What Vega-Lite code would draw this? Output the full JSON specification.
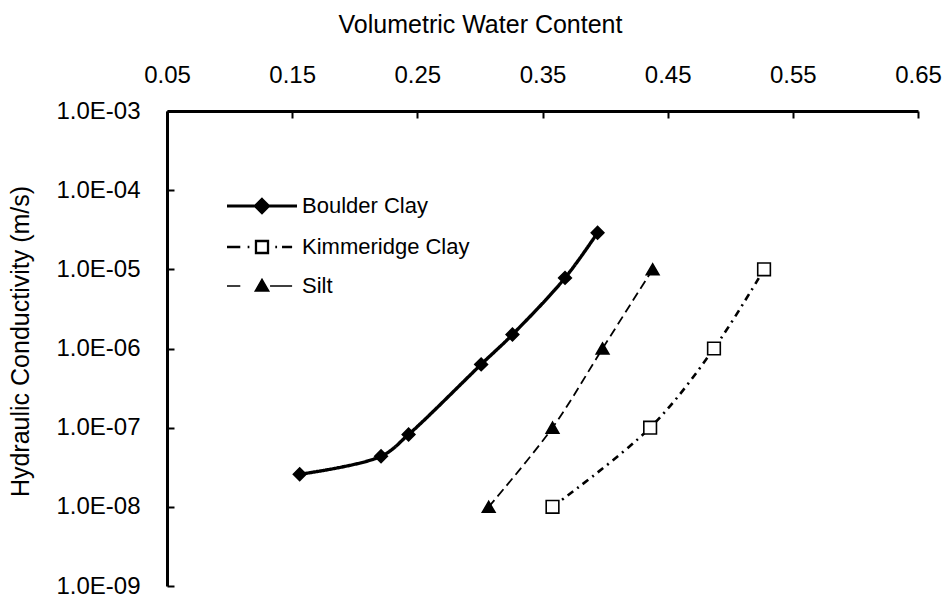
{
  "$schema": "https://vega.github.io/schema/vega-lite/v6.json",
  "width": 751,
  "height": 475,
  "autosize": {"type": "none"},
  "padding": {"left": 167, "top": 111, "right": 25, "bottom": 15},
  "background": "white",
  "config": {
    "view": {"stroke": null},
    "font": "Liberation Sans",
    "axis": {
      "labelFont": "Liberation Sans",
      "labelFontSize": 24,
      "labelColor": "black",
      "labelFlush": false,
      "labelOverlap": false,
      "titleFont": "Liberation Sans",
      "titleFontSize": 25,
      "titleFontWeight": "normal",
      "titleColor": "black",
      "domainColor": "black",
      "domainWidth": 3,
      "tickColor": "black",
      "tickWidth": 2,
      "tickSize": -7,
      "grid": false
    }
  },
  "data": {
    "values": [
      {"series": "Boulder Clay", "vwc": 0.156, "k": 2.58e-8},
      {"series": "Boulder Clay", "vwc": 0.221, "k": 4.35e-8},
      {"series": "Boulder Clay", "vwc": 0.243, "k": 8.2e-8},
      {"series": "Boulder Clay", "vwc": 0.301, "k": 6.3e-7},
      {"series": "Boulder Clay", "vwc": 0.326, "k": 1.5e-6},
      {"series": "Boulder Clay", "vwc": 0.368, "k": 7.8e-6},
      {"series": "Boulder Clay", "vwc": 0.394, "k": 2.9e-5},
      {"series": "Kimmeridge Clay", "vwc": 0.358, "k": 1e-8},
      {"series": "Kimmeridge Clay", "vwc": 0.436, "k": 1e-7},
      {"series": "Kimmeridge Clay", "vwc": 0.487, "k": 1e-6},
      {"series": "Kimmeridge Clay", "vwc": 0.527, "k": 1e-5},
      {"series": "Silt", "vwc": 0.307, "k": 1e-8},
      {"series": "Silt", "vwc": 0.358, "k": 1e-7},
      {"series": "Silt", "vwc": 0.398, "k": 1e-6},
      {"series": "Silt", "vwc": 0.438, "k": 1e-5}
    ]
  },
  "encoding": {
    "x": {
      "field": "vwc",
      "type": "quantitative",
      "scale": {"domain": [0.05, 0.65], "nice": false, "zero": false},
      "axis": {
        "orient": "top",
        "title": "Volumetric Water Content",
        "values": [0.05, 0.15, 0.25, 0.35, 0.45, 0.55, 0.65],
        "format": ".2f",
        "labelPadding": 36,
        "labelBaseline": "alphabetic",
        "titleX": 313,
        "titleY": -79,
        "titleAlign": "center",
        "titleBaseline": "alphabetic"
      }
    },
    "y": {
      "field": "k",
      "type": "quantitative",
      "scale": {"type": "log", "domain": [1e-9, 1e-3], "nice": false},
      "axis": {
        "title": "Hydraulic Conductivity (m/s)",
        "values": [1e-9, 1e-8, 1e-7, 1e-6, 1e-5, 1e-4, 1e-3],
        "labelExpr": "'1.0E-0' + round(-log(datum.value)/LN10)",
        "labelPadding": 34,
        "titleX": -139,
        "titleY": 230,
        "titleAngle": -90,
        "titleAlign": "center",
        "titleBaseline": "alphabetic"
      }
    }
  },
  "layer": [
    {
      "mark": {"type": "line", "interpolate": "catmull-rom", "color": "black"},
      "encoding": {
        "detail": {"field": "series", "type": "nominal"},
        "strokeDash": {
          "field": "series",
          "type": "nominal",
          "scale": {"domain": ["Boulder Clay", "Kimmeridge Clay", "Silt"], "range": [[1, 0], [7, 5, 2, 5], [9, 5]]},
          "legend": null
        },
        "strokeWidth": {
          "field": "series",
          "type": "nominal",
          "scale": {"domain": ["Boulder Clay", "Kimmeridge Clay", "Silt"], "range": [3.4, 1.8, 1.8]},
          "legend": null
        }
      }
    },
    {
      "mark": {"type": "point", "stroke": "black", "strokeWidth": 1.6, "opacity": 1, "size": 160},
      "encoding": {
        "shape": {
          "field": "series",
          "type": "nominal",
          "scale": {"domain": ["Boulder Clay", "Kimmeridge Clay", "Silt"], "range": ["diamond", "square", "triangle-up"]},
          "legend": null
        },
        "fill": {
          "field": "series",
          "type": "nominal",
          "scale": {"domain": ["Boulder Clay", "Kimmeridge Clay", "Silt"], "range": ["black", "white", "black"]},
          "legend": null
        }
      }
    },
    {
      "mark": {"type": "point", "stroke": "black", "opacity": 0, "size": 196},
      "encoding": {
        "shape": {
          "field": "series",
          "type": "nominal",
          "scale": {
            "domain": ["Boulder Clay", "Kimmeridge Clay", "Silt"],
            "range": [
              "M-5,0H5M0,-0.93L0.93,0L0,0.93L-0.93,0Z",
              "M-5,0H-3.1M-2.05,0H-1.8M-0.86,-0.86H0.86V0.86H-0.86ZM1.9,0H2.15M2.86,0H4.3",
              "M-5,0H-3.1M0,-0.95L0.95,0.7L-0.95,0.7ZM1.15,0H4.3"
            ]
          },
          "legend": {
            "orient": "none",
            "legendX": 84,
            "legendY": 84,
            "title": null,
            "padding": 0,
            "symbolSize": 196,
            "symbolOpacity": 1,
            "labelOffset": 29,
            "labelLimit": 400,
            "labelFont": "Liberation Sans",
            "labelFontSize": 22,
            "labelColor": "black",
            "rowPadding": 17
          }
        },
        "fill": {
          "field": "series",
          "type": "nominal",
          "scale": {"domain": ["Boulder Clay", "Kimmeridge Clay", "Silt"], "range": ["black", "white", "black"]},
          "legend": {
            "orient": "none",
            "legendX": 84,
            "legendY": 84,
            "title": null,
            "padding": 0,
            "symbolSize": 196,
            "symbolOpacity": 1,
            "labelOffset": 29,
            "labelLimit": 400,
            "labelFont": "Liberation Sans",
            "labelFontSize": 22,
            "labelColor": "black",
            "rowPadding": 17
          }
        },
        "strokeWidth": {
          "field": "series",
          "type": "nominal",
          "scale": {"domain": ["Boulder Clay", "Kimmeridge Clay", "Silt"], "range": [3, 1.6, 1.6]},
          "legend": {
            "orient": "none",
            "legendX": 84,
            "legendY": 84,
            "title": null,
            "padding": 0,
            "symbolSize": 196,
            "symbolOpacity": 1,
            "labelOffset": 29,
            "labelLimit": 400,
            "labelFont": "Liberation Sans",
            "labelFontSize": 22,
            "labelColor": "black",
            "rowPadding": 17
          }
        }
      }
    }
  ],
  "resolve": {"scale": {"shape": "independent", "fill": "independent", "strokeWidth": "independent"}}
}
